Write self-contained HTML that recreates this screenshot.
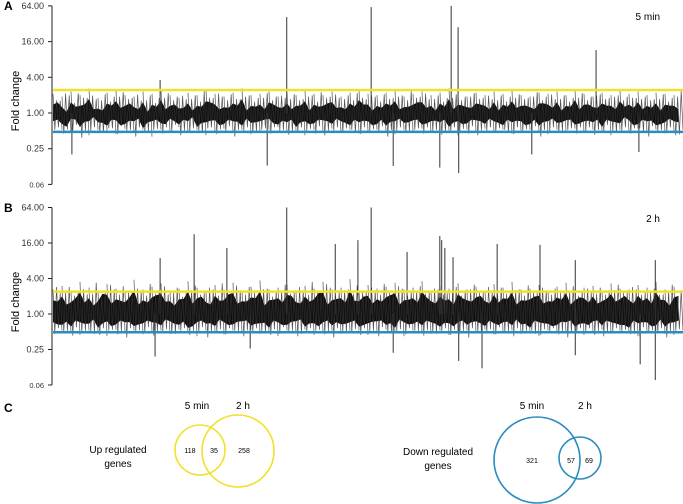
<!DOCTYPE html>
<html><head><meta charset="utf-8"><style>
body{margin:0;background:#fff;}
svg{display:block;font-family:"Liberation Sans",sans-serif;}
</style></head><body>
<svg id="fig" width="683" height="504" viewBox="0 0 683 504">
<g id="panelA"></g>
<g id="panelB"></g>
<g id="panelC">
<text x="4" y="412" font-size="12" font-weight="bold">C</text>
<text x="197" y="409" font-size="10" text-anchor="middle">5 min</text>
<text x="243" y="409" font-size="10" text-anchor="middle">2 h</text>
<text x="118" y="453" font-size="10" text-anchor="middle">Up regulated</text>
<text x="118" y="467" font-size="10" text-anchor="middle">genes</text>
<circle cx="200" cy="450" r="25" fill="none" stroke="#f0e12a" stroke-width="1.6"/>
<circle cx="238" cy="451" r="36" fill="none" stroke="#f0e12a" stroke-width="1.6"/>
<text x="190" y="453" font-size="7" text-anchor="middle">118</text>
<text x="214" y="453" font-size="7" text-anchor="middle">35</text>
<text x="244" y="453" font-size="7" text-anchor="middle">258</text>
<text x="532" y="409" font-size="10" text-anchor="middle">5 min</text>
<text x="585" y="409" font-size="10" text-anchor="middle">2 h</text>
<text x="438" y="455" font-size="10" text-anchor="middle">Down regulated</text>
<text x="438" y="469" font-size="10" text-anchor="middle">genes</text>
<circle cx="537" cy="460" r="43" fill="none" stroke="#2a8cbf" stroke-width="1.6"/>
<circle cx="580" cy="458" r="21" fill="none" stroke="#2a8cbf" stroke-width="1.6"/>
<text x="532" y="463" font-size="7" text-anchor="middle">321</text>
<text x="571" y="463" font-size="7" text-anchor="middle">57</text>
<text x="589" y="463" font-size="7" text-anchor="middle">69</text>
</g>
</svg>
<script>
const tickValues=[64,16,4,1,0.25,0.0625];
const tickLabels=["64.00","16.00","4.00","1.00","0.25","0.06"];
const thresholdUpA=2.44, thresholdDownA=0.48;
const thresholdUpB=2.4, thresholdDownB=0.49;
const hiA=[2.1,1.9,2.3,2.0,2.6,1.8,2.2,2.4,2.0,1.9,2.3,2.1,2.5,2.0,1.8,2.2,2.0,2.4,2.1,1.9,2.2,2.6,2.0,2.1,2.3,1.9,2.2,2.0,2.4,2.1,2.0,2.3,1.9,2.2,2.5,2.1,2.0,2.2,2.4,1.9,2.1,2.3,2.0,2.2,2.6,2.1,1.9,2.2,2.0,2.3,2.1,2.4,2.0,1.9,2.2,2.1,2.3,2.0,2.5,2.1,1.9,2.2,2.0,2.4,2.1,2.3,2.0,2.2,2.1,2.0];
const loA=[0.5,0.45,0.55,0.4,0.5,0.48,0.42,0.52,0.45,0.5,0.38,0.5,0.46,0.55,0.44,0.5,0.4,0.48,0.52,0.45,0.5,0.42,0.47,0.5,0.55,0.44,0.48,0.4,0.5,0.46,0.52,0.45,0.5,0.43,0.48,0.5,0.45,0.42,0.5,0.47,0.52,0.44,0.5,0.48,0.4,0.5,0.46,0.52,0.45,0.5,0.43,0.48,0.5,0.45,0.42,0.5,0.47,0.52,0.44,0.5,0.48,0.4,0.5,0.46,0.52,0.45,0.5,0.43,0.48,0.5];
const spikeGenesA=[371,505,632,643,862,540,644,614,340,170,30,760,930];
const spikeValsA=[41.6,61,64,28,11.5,0.128,0.097,0.12,0.13,3.6,0.2,0.2,0.22];
const hiB=[2.6,3.0,2.4,3.5,2.8,2.5,3.2,2.7,2.4,3.8,2.6,2.9,3.3,2.5,2.7,3.6,2.8,2.4,3.1,2.6,3.4,2.5,2.9,3.7,2.6,2.8,3.2,2.4,3.0,2.7,3.5,2.6,2.8,3.9,2.5,3.1,2.7,2.9,3.4,2.6,2.8,3.6,2.5,3.0,2.7,3.3,2.6,2.9,2.5,3.2,2.8,3.5,2.6,2.7,3.1,2.5,2.9,3.4,2.6,2.8,3.0,2.5,3.3,2.7,2.6,3.1,2.8,3.5,2.6,2.9];
const loB=[0.5,0.45,0.42,0.5,0.47,0.4,0.52,0.46,0.5,0.43,0.48,0.5,0.44,0.52,0.45,0.4,0.5,0.47,0.43,0.5,0.46,0.52,0.44,0.48,0.4,0.5,0.45,0.52,0.42,0.48,0.5,0.44,0.46,0.5,0.42,0.48,0.52,0.45,0.4,0.5,0.47,0.44,0.5,0.42,0.48,0.5,0.45,0.52,0.43,0.48,0.5,0.44,0.46,0.4,0.5,0.47,0.45,0.5,0.42,0.48,0.52,0.44,0.5,0.45,0.4,0.48,0.5,0.44,0.42,0.5];
const spikeGenesB=[371,505,224,276,170,484,614,617,622,635,705,562,448,773,829,956,681,644,540,162,313,956,932,829];
const spikeValsB=[64,64,22.6,13.2,8.9,17.9,21,17.9,13.2,9.2,15.4,11.3,15.4,14.9,8.2,8.2,0.12,0.16,0.22,0.19,0.26,0.076,0.14,0.2];

const NS="http://www.w3.org/2000/svg";
function mk(parent,tag,attrs){const e=document.createElementNS(NS,tag);for(const k in attrs)e.setAttribute(k,attrs[k]);parent.appendChild(e);return e;}
const xGene=g=>53+g*0.63;
function drawPanel(gid,letter,title,y1,step,yTop,hi,lo,sg,sv,tu,td){
  const g=document.getElementById(gid);
  const y=v=>y1-Math.log(v)/Math.log(4)*step;
  const n=hi.length;
  let t=mk(g,'text',{x:4,y:yTop-2,'font-size':12,'font-weight':'bold'});t.textContent=letter;
  
  
  t=mk(g,'text',{x:660,y:yTop+8,'font-size':10,'text-anchor':'end'});t.textContent=title;
  
  
  t=mk(g,'text',{x:0,y:0,'font-size':11,'text-anchor':'middle',transform:`translate(19,${y1-12}) rotate(-90)`});t.textContent='Fold change';
  
  
  const ax=mk(g,'line',{x1:52,x2:52,y1:y(64),y2:y(0.0625),stroke:'#222','stroke-width':1});
  
  
  tickValues.forEach((v,i)=>{
    const tk=mk(g,'line',{x1:48,x2:52,y1:y(v),y2:y(v),stroke:'#222'});
    
    
    const tl=mk(g,'text',{x:44,y:y(v)+3,'font-size':i==5?7.5:9,'text-anchor':'end',fill:'#333'});tl.textContent=tickLabels[i];
    
    
  });
  const bw=630/n;
  // jagged core band
  let top='',bot='';
  hi.forEach((h,i)=>{const x=53+i*bw;
    top+=`${x.toFixed(1)},${y(h*0.66).toFixed(1)} ${(x+bw/2).toFixed(1)},${y(hi[(i+4)%n]*0.58).toFixed(1)} `;});
  for(let i=n-1;i>=0;i--){const x=53+i*bw;
    bot+=`${(x+bw/2).toFixed(1)},${y(lo[(i+9)%n]*1.55).toFixed(1)} ${x.toFixed(1)},${y(lo[i]*1.45).toFixed(1)} `;}
  const core=mk(g,'polygon',{points:top+bot,fill:'#111'});
  
  
  let d='';
  hi.forEach((h,i)=>{const x=53+i*bw;
    d+=`M${x.toFixed(1)},${y(h).toFixed(1)}L${(x+bw*0.2).toFixed(1)},${y(lo[(i+7)%n]).toFixed(1)}L${(x+bw*0.4).toFixed(1)},${y(hi[(i+3)%n]*0.82).toFixed(1)}L${(x+bw*0.6).toFixed(1)},${y(lo[(i+11)%n]*1.15).toFixed(1)}L${(x+bw*0.8).toFixed(1)},${y(hi[(i+5)%n]*0.9).toFixed(1)}L${(x+bw).toFixed(1)},${y(lo[i]*1.05).toFixed(1)}`;});
  const p=mk(g,'path',{d:d,fill:'none',stroke:'#333','stroke-width':0.7,opacity:0.85});
  
  
  sg.forEach((gn,i)=>{
    const s=mk(g,'line',{x1:xGene(gn),x2:xGene(gn),y1:y(1),y2:y(sv[i]),stroke:'#333','stroke-width':1});
    
    
  });
  const yl=mk(g,'line',{x1:53,x2:683,y1:y(tu),y2:y(tu),stroke:'#f0e12a','stroke-width':2.5});
  
  
  const bl=mk(g,'line',{x1:53,x2:683,y1:y(td),y2:y(td),stroke:'#2a8cbf','stroke-width':2.5});
  
  
}
drawPanel('panelA','A','5 min',113,35.7,12,hiA,loA,spikeGenesA,spikeValsA,thresholdUpA,thresholdDownA);
drawPanel('panelB','B','2 h',314,35.5,214,hiB,loB,spikeGenesB,spikeValsB,thresholdUpB,thresholdDownB);
</script>
</body></html>
